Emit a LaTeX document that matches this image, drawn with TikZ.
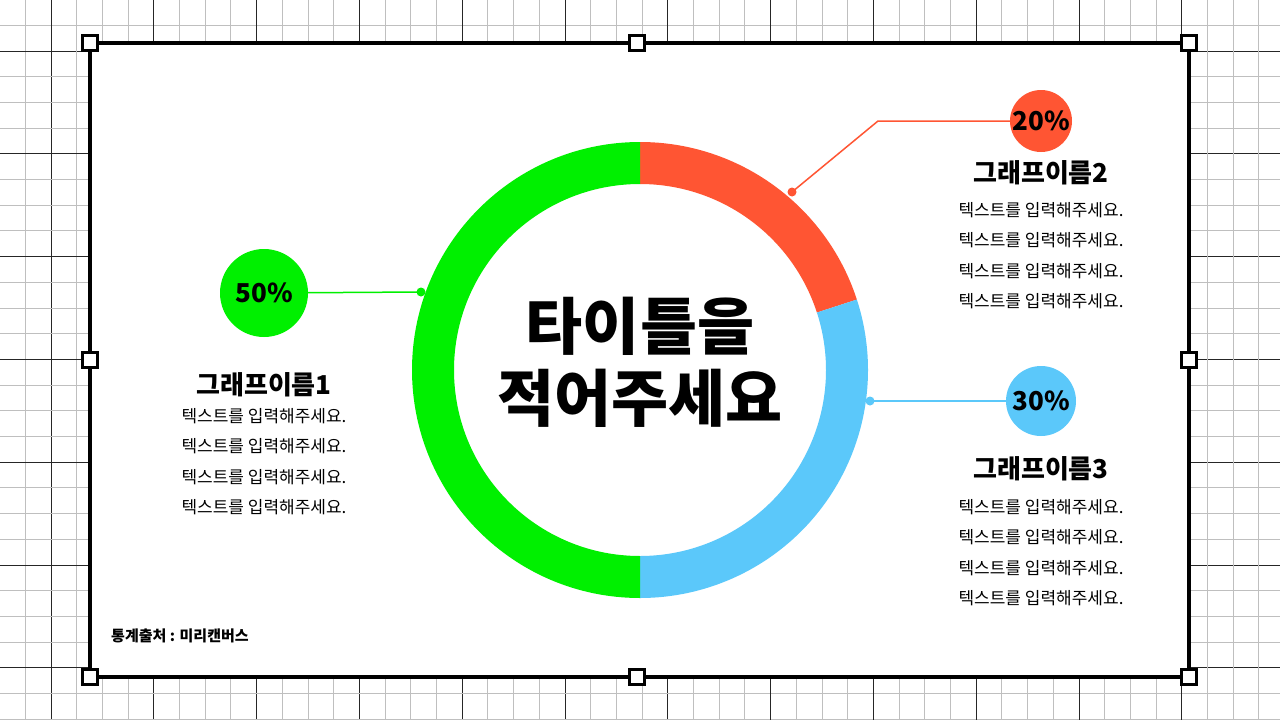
\documentclass[tikz,border=0pt]{standalone}
\usepackage{fontspec}
\newfontfamily\cjk{Noto Sans CJK KR}
\newfontfamily\cjkblack{Noto Sans CJK KR Black}
\definecolor{cgreen}{HTML}{00F000}
\definecolor{corange}{HTML}{FF5533}
\definecolor{cblue}{HTML}{5BC8FA}
\begin{document}
\begin{tikzpicture}[x=1pt,y=-1pt,
  handle/.style={draw=black,line width=3pt,fill=white,minimum size=15pt,inner sep=0pt},
  pct/.style={circle,inner sep=0pt,font=\cjk\bfseries\fontsize{26}{26}\selectfont},
  gname/.style={font=\cjk\bfseries\fontsize{26}{26}\selectfont,inner sep=0pt},
  body/.style={font=\cjk\fontsize{17}{30.5}\selectfont,align=center,inner sep=0pt},
  dotc/.style={circle,inner sep=0pt,minimum size=9pt}]
\useasboundingbox (0,0) rectangle (1280,720);
\fill[white] (0,0) rectangle (1280,720);
\foreach \i in {0,...,50} {
  \pgfmathsetmacro\p{-0.4+25.7*\i}
  \pgfmathtruncatemacro\m{mod(\i,4)}
  \ifnum\m=2
    \draw[black!85,line width=1pt] (\p,0) -- (\p,720);
    \draw[black!85,line width=1pt] (0,\p) -- (1280,\p);
  \else
    \draw[black!25,line width=1pt] (\p,0) -- (\p,720);
    \draw[black!25,line width=1pt] (0,\p) -- (1280,\p);
  \fi
}
\draw[line width=4pt,fill=white] (90,43) rectangle (1189,677);
\foreach \n/\x/\y in {h1/90/43,h2/637/43,h3/1189/43,h4/90/360,h5/1189/360,h6/90/677,h7/637/677,h8/1189/677}
  \node[handle] (\n) at (\x,\y) {};
% ring
\coordinate (c) at (640,370);
\fill[corange] ([shift={(-90:228)}]c) arc[start angle=-90,end angle=-18,radius=228] -- ([shift={(-18:186)}]c) arc[start angle=-18,end angle=-90,radius=186] -- cycle;
\fill[cblue] ([shift={(-18:228)}]c) arc[start angle=-18,end angle=90,radius=228] -- ([shift={(90:186)}]c) arc[start angle=90,end angle=-18,radius=186] -- cycle;
\fill[cgreen] ([shift={(90:228)}]c) arc[start angle=90,end angle=270,radius=228] -- ([shift={(270:186)}]c) arc[start angle=270,end angle=90,radius=186] -- cycle;
\node[font=\cjkblack\fontsize{62}{72}\selectfont,align=center] (title) at (640,362) {타이틀을\\적어주세요};
% percent circles
\node[pct,fill=cgreen,minimum size=88pt] (p1) at (264,293) {50\%};
\node[pct,fill=corange,minimum size=62pt] (p2) at (1041,121) {20\%};
\node[pct,fill=cblue,minimum size=70pt] (p3) at (1041,401) {30\%};
\node[dotc,fill=cgreen] (d1) at (421,292) {};
\node[dotc,fill=corange] (d2) at (792,192) {};
\node[dotc,fill=cblue] (d3) at (870,401) {};
\coordinate (k2) at (878,121);
\draw[cgreen,line width=1.5pt] (p1) -- (d1.center);
\draw[corange,line width=1.5pt] (p2) -- (k2) -- (d2.center);
\draw[cblue,line width=1.5pt] (p3) -- (d3.center);
% labels
\node[gname] (g1) at (264,385) {그래프이름1};
\node[body,anchor=north] (b1) at (264,408) {텍스트를 입력해주세요.\\텍스트를 입력해주세요.\\텍스트를 입력해주세요.\\텍스트를 입력해주세요.};
\node[gname] (g2) at (1041,173) {그래프이름2};
\node[body,anchor=north] (b2) at (1041,202) {텍스트를 입력해주세요.\\텍스트를 입력해주세요.\\텍스트를 입력해주세요.\\텍스트를 입력해주세요.};
\node[gname] (g3) at (1041,469) {그래프이름3};
\node[body,anchor=north] (b3) at (1041,499) {텍스트를 입력해주세요.\\텍스트를 입력해주세요.\\텍스트를 입력해주세요.\\텍스트를 입력해주세요.};
\node[font=\cjk\bfseries\fontsize{15}{15}\selectfont,anchor=west,inner sep=0pt] (src) at (111,636) {통계출처 : 미리캔버스};
\end{tikzpicture}
\end{document}
